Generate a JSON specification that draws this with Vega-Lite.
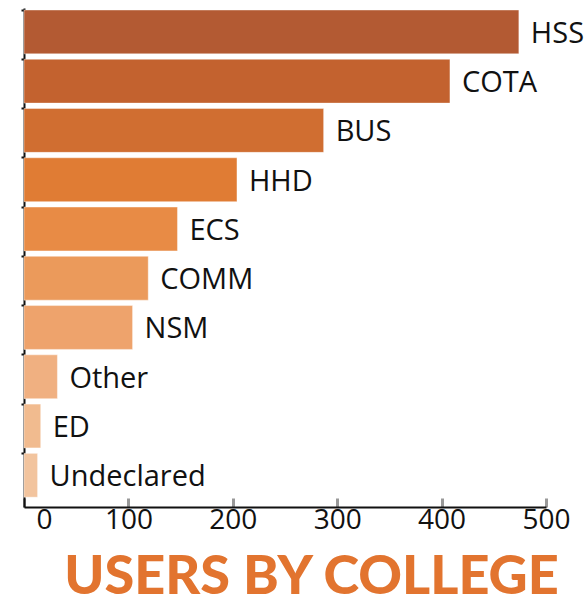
{
  "$schema": "https://vega.github.io/schema/vega-lite/v6.json",
  "width": 522,
  "height": 499,
  "autosize": {"type": "none"},
  "padding": {"left": 24, "top": 8, "right": 42, "bottom": 98},
  "background": "white",
  "view": {"stroke": null},
  "data": {
    "values": [
      {"college": "HSS", "users": 474},
      {"college": "COTA", "users": 408},
      {"college": "BUS", "users": 287},
      {"college": "HHD", "users": 204},
      {"college": "ECS", "users": 147},
      {"college": "COMM", "users": 119},
      {"college": "NSM", "users": 104},
      {"college": "Other", "users": 32},
      {"college": "ED", "users": 16},
      {"college": "Undeclared", "users": 13}
    ]
  },
  "encoding": {
    "y": {
      "field": "college",
      "type": "nominal",
      "sort": null,
      "scale": {"paddingInner": 0.11, "paddingOuter": 0.12, "align": 0.17},
      "axis": {
        "title": null,
        "labels": false,
        "domainColor": "#111",
        "domainWidth": 2,
        "ticks": true,
        "tickColor": "#111",
        "tickSize": 3,
        "tickWidth": 2,
        "bandPosition": 0,
        "grid": false
      }
    },
    "x": {
      "field": "users",
      "type": "quantitative",
      "scale": {"domain": [0, 500], "nice": false},
      "axis": {
        "values": [0, 100, 200, 300, 400, 500],
        "grid": false,
        "domainColor": "#111",
        "domainWidth": 2,
        "tickColor": "#999",
        "tickWidth": 3,
        "tickSize": -9,
        "labelFont": "Open Sans",
        "labelFontSize": 28,
        "labelColor": "#111",
        "labelPadding": 8,
        "labelFlush": false,
        "labelOffset": {"expr": "datum.value === 0 ? 20 : 0"},
        "title": "USERS BY COLLEGE",
        "titleFont": "Lato",
        "titleFontWeight": 900,
        "titleFontSize": 54,
        "titleColor": "#E2742F",
        "titleX": 287,
        "titleY": 86,
        "titleBaseline": "alphabetic",
        "titleAlign": "center"
      }
    }
  },
  "layer": [
    {
      "mark": {"type": "bar", "stroke": "#ffffff", "strokeOpacity": 0.4, "strokeWidth": 1},
      "encoding": {
        "color": {
          "field": "college",
          "type": "nominal",
          "legend": null,
          "scale": {
            "domain": ["HSS", "COTA", "BUS", "HHD", "ECS", "COMM", "NSM", "Other", "ED", "Undeclared"],
            "range": ["#B35A33", "#C3622F", "#D06E31", "#E07C34", "#E88B45", "#EB9A5B", "#EEA36C", "#F0B081", "#F1BB8F", "#F2C49E"]
          }
        }
      }
    },
    {
      "mark": {"type": "text", "align": "left", "baseline": "middle", "dx": 12, "dy": 2, "font": "Open Sans", "fontSize": 29, "fontWeight": 500, "color": "#111"},
      "encoding": {"text": {"field": "college"}}
    }
  ]
}
